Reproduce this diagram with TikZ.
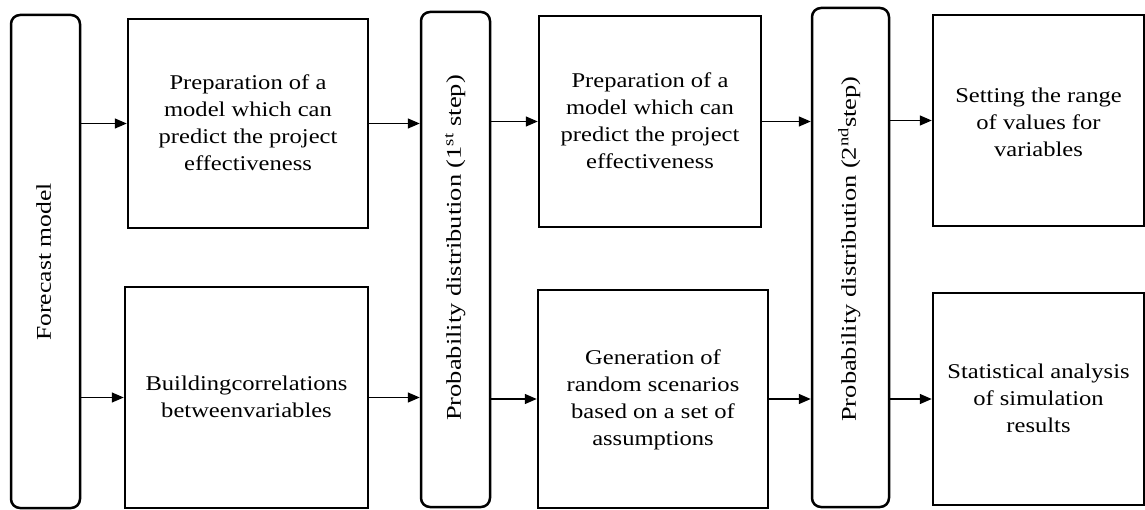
\documentclass[tikz,border=0pt]{standalone}
\usepackage{fontspec}
\usepackage{graphicx}
\setmainfont{Liberation Serif}
\usetikzlibrary{arrows.meta}
\newcommand{\wideText}[2]{\scalebox{#1}[1]{\begin{tabular}{@{}c@{}}#2\end{tabular}}}
\begin{document}
\begin{tikzpicture}[x=1pt,y=-1pt,
  box/.style={draw,line width=2.5pt,rectangle,inner sep=0pt,anchor=center},
  tall/.style={box,rounded corners=9pt},
  txt/.style={align=center,font=\fontsize{21}{27}\selectfont,inner sep=0pt},
  arr/.style={line width=1.4pt,-{Triangle[length=12pt,width=10pt]}}]
\useasboundingbox (0,0) rectangle (1145,510);
% tall boxes
\node[tall,minimum width=69pt,minimum height=493pt] (F) at (45.5,261.5) {};
\node[tall,minimum width=69pt,minimum height=495pt] (P1) at (455.5,259.5) {};
\node[tall,minimum width=77pt,minimum height=499pt] (P2) at (850.5,257.5) {};
\node[txt,rotate=90] (Ft) at (45.5,262) {\wideText{1.22}{Forecast model}};
\node[txt,rotate=90] (P1t) at (455.5,248) {\wideText{1.26}{Probability distribution (1\textsuperscript{st} step)}};
\node[txt,rotate=90] (P2t) at (850.5,249) {\wideText{1.26}{Probability distribution (2\textsuperscript{nd}step)}};
% rectangles
\node[box,minimum width=240pt,minimum height=209pt] (A1) at (248,123.5) {};
\node[box,minimum width=243pt,minimum height=221pt] (B1) at (246.5,397.5) {};
\node[box,minimum width=222pt,minimum height=211pt] (A2) at (650,121.5) {};
\node[box,minimum width=230pt,minimum height=218pt] (B2) at (653,399) {};
\node[box,minimum width=211pt,minimum height=211pt] (A3) at (1038.5,120.5) {};
\node[box,minimum width=211pt,minimum height=212pt] (B3) at (1038.5,399) {};
% texts
\node[txt] (A1t) at (248,125) {\wideText{1.17}{Preparation of a\\model which can\\predict the project\\effectiveness}};
\node[txt] (B1t) at (246.5,399) {\wideText{1.17}{Buildingcorrelations\\betweenvariables}};
\node[txt] (A2t) at (650,123) {\wideText{1.17}{Preparation of a\\model which can\\predict the project\\effectiveness}};
\node[txt] (B2t) at (653,400) {\wideText{1.17}{Generation of\\random scenarios\\based on a set of\\assumptions}};
\node[txt] (A3t) at (1038.5,124) {\wideText{1.17}{Setting the range\\of values for\\variables}};
\node[txt] (B3t) at (1038.5,400) {\wideText{1.17}{Statistical analysis\\of simulation\\results}};
% arrows
\draw[arr] (F.east |- A1.west) -- (A1.west);
\draw[arr] (F.east |- B1.west) -- (B1.west);
\draw[arr] (A1.east) -- (P1.west |- A1.east);
\draw[arr] (B1.east) -- (P1.west |- B1.east);
\draw[arr] (P1.east |- A2.west) -- (A2.west);
\draw[arr] (P1.east |- B2.west) -- (B2.west);
\draw[arr] (A2.east) -- (P2.west |- A2.east);
\draw[arr] (B2.east) -- (P2.west |- B2.east);
\draw[arr] (P2.east |- A3.west) -- (A3.west);
\draw[arr] (P2.east |- B3.west) -- (B3.west);
\end{tikzpicture}
\end{document}
